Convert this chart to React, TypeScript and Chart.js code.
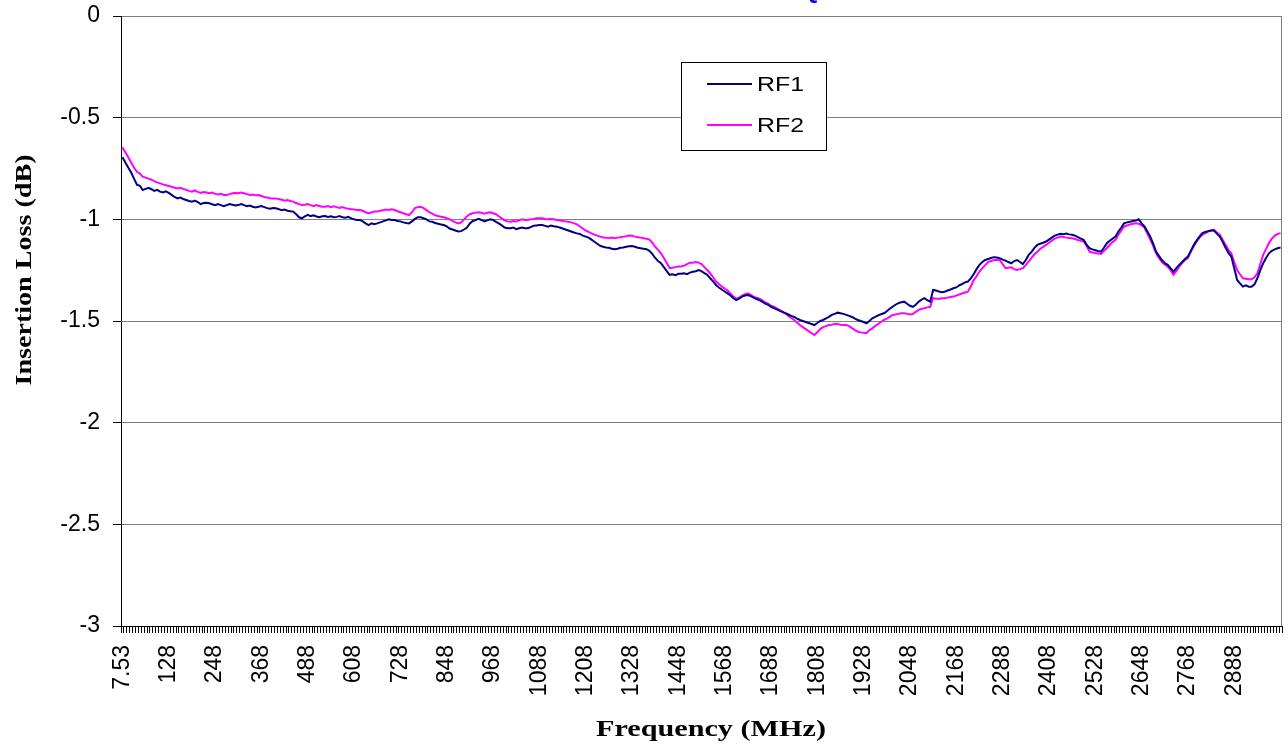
import React, { useEffect, useRef } from "react";
import { Chart, registerables } from "chart.js";

Chart.register(...registerables);

// Tick labels shown every 16 categories (MHz)
const TICK_LABELS = [
  "7.53", "128", "248", "368", "488", "608", "728", "848", "968", "1088",
  "1208", "1328", "1448", "1568", "1688", "1808", "1928", "2048", "2168",
  "2288", "2408", "2528", "2648", "2768", "2888",
];
const POINT_COUNT = 401;
const LABEL_EVERY = 16;
const CATEGORIES: string[] = Array.from({ length: POINT_COUNT }, (_, i) =>
  i % LABEL_EVERY === 0 && TICK_LABELS[i / LABEL_EVERY] !== undefined ? TICK_LABELS[i / LABEL_EVERY] : ""
);

const SERIES_NAMES = ["RF1", "RF2"];
const SERIES_COLORS = ["#000080", "#FF00FF"];

const RF1 = [
  -0.695, -0.72, -0.745, -0.77, -0.80, -0.83, -0.835, -0.856, -0.85, -0.845,
  -0.852, -0.86, -0.855, -0.864, -0.868, -0.862, -0.87, -0.88, -0.89, -0.897,
  -0.893, -0.90, -0.905, -0.91, -0.913, -0.908, -0.915, -0.925, -0.92, -0.918,
  -0.921, -0.926, -0.93, -0.925, -0.93, -0.935, -0.93, -0.925, -0.928, -0.932,
  -0.93, -0.925, -0.93, -0.935, -0.932, -0.938, -0.942, -0.938, -0.935, -0.94,
  -0.945, -0.948, -0.944, -0.946, -0.95, -0.955, -0.952, -0.958, -0.96, -0.962,
  -0.975, -0.99, -0.995, -0.985, -0.978, -0.984, -0.98, -0.986, -0.99, -0.985,
  -0.984, -0.988, -0.985, -0.99, -0.988, -0.984, -0.99, -0.992, -0.988, -0.995,
  -1.0, -1.003, -1.003, -1.01, -1.02, -1.028, -1.02, -1.024, -1.02, -1.015,
  -1.01, -1.005, -1.0, -1.003, -1.003, -1.008, -1.01, -1.015, -1.018, -1.02,
  -1.01, -0.998, -0.99, -0.99, -0.995, -1.0, -1.01, -1.012, -1.018, -1.022,
  -1.025, -1.028, -1.035, -1.045, -1.05, -1.055, -1.06, -1.058, -1.05, -1.04,
  -1.02, -1.008, -1.003, -0.998, -1.003, -1.01, -1.005, -1.0, -1.003, -1.012,
  -1.02, -1.03, -1.04, -1.044, -1.044, -1.04, -1.048, -1.044, -1.04, -1.044,
  -1.044, -1.038, -1.032, -1.03, -1.028, -1.028, -1.032, -1.036, -1.03, -1.034,
  -1.036, -1.04, -1.045, -1.05, -1.055, -1.06, -1.065, -1.069, -1.072, -1.08,
  -1.085, -1.09, -1.10, -1.11, -1.12, -1.13, -1.135, -1.138, -1.14, -1.145,
  -1.147, -1.145, -1.14, -1.138, -1.135, -1.132, -1.131, -1.135, -1.14, -1.142,
  -1.145, -1.147, -1.155, -1.17, -1.19, -1.205, -1.216, -1.235, -1.255, -1.273,
  -1.27, -1.275, -1.268, -1.268, -1.265, -1.27, -1.262, -1.258, -1.255, -1.249,
  -1.255, -1.265, -1.273, -1.29, -1.305, -1.323, -1.335, -1.345, -1.355, -1.364,
  -1.375, -1.388, -1.397, -1.39, -1.38, -1.375, -1.372, -1.378, -1.385, -1.392,
  -1.397, -1.405, -1.415, -1.42, -1.43, -1.437, -1.443, -1.45, -1.455, -1.462,
  -1.468, -1.475, -1.48, -1.488, -1.495, -1.5, -1.505, -1.51, -1.515, -1.52,
  -1.51, -1.5, -1.495, -1.487, -1.48, -1.47, -1.465, -1.459, -1.462, -1.465,
  -1.47, -1.475, -1.48, -1.488, -1.495, -1.5, -1.505, -1.511, -1.5, -1.487,
  -1.48, -1.472, -1.467, -1.462, -1.452, -1.44, -1.43, -1.42, -1.412, -1.408,
  -1.405, -1.415, -1.425, -1.43, -1.42, -1.405, -1.395, -1.388, -1.398, -1.405,
  -1.347, -1.35, -1.355, -1.358, -1.356, -1.35, -1.345, -1.339, -1.335, -1.325,
  -1.318, -1.31, -1.306, -1.29, -1.27, -1.245, -1.224, -1.21, -1.2, -1.195,
  -1.19, -1.186, -1.188, -1.191, -1.198, -1.203, -1.21, -1.216, -1.205, -1.20,
  -1.21, -1.22, -1.2, -1.175, -1.16, -1.14, -1.126, -1.12, -1.115, -1.109,
  -1.1, -1.09, -1.08, -1.075, -1.071, -1.073, -1.07, -1.074, -1.076, -1.08,
  -1.088, -1.095, -1.101, -1.125, -1.142, -1.148, -1.152, -1.156, -1.159, -1.14,
  -1.117, -1.105, -1.095, -1.085, -1.06, -1.04, -1.019, -1.015, -1.012, -1.008,
  -1.006, -1.0, -1.02, -1.035, -1.06, -1.085, -1.12, -1.159, -1.18, -1.2,
  -1.215, -1.224, -1.24, -1.257, -1.24, -1.224, -1.21, -1.195, -1.183, -1.155,
  -1.126, -1.105, -1.085, -1.068, -1.062, -1.058, -1.055, -1.055, -1.07, -1.085,
  -1.11, -1.14, -1.165, -1.183, -1.24, -1.298, -1.315, -1.331, -1.325, -1.331,
  -1.331, -1.32, -1.29, -1.25, -1.216, -1.19, -1.167, -1.155, -1.148, -1.142, -1.139,
];

const RF2 = [
  -0.646, -0.67, -0.695, -0.72, -0.745, -0.766, -0.775, -0.79, -0.795, -0.80,
  -0.805, -0.812, -0.818, -0.823, -0.828, -0.832, -0.836, -0.84, -0.845, -0.848,
  -0.845, -0.85, -0.855, -0.86, -0.864, -0.858, -0.865, -0.87, -0.866, -0.868,
  -0.872, -0.868, -0.875, -0.878, -0.874, -0.88, -0.88, -0.876, -0.872, -0.87,
  -0.872, -0.868, -0.872, -0.876, -0.88, -0.878, -0.882, -0.88, -0.885, -0.89,
  -0.893, -0.896, -0.897, -0.897, -0.9, -0.904, -0.908, -0.905, -0.91, -0.913,
  -0.92, -0.925, -0.93, -0.928, -0.925, -0.93, -0.935, -0.93, -0.934, -0.938,
  -0.938, -0.935, -0.94, -0.936, -0.94, -0.944, -0.94, -0.945, -0.948, -0.95,
  -0.952, -0.954, -0.954, -0.958, -0.965, -0.97, -0.966, -0.962, -0.962, -0.958,
  -0.955, -0.952, -0.954, -0.95, -0.954, -0.96, -0.965, -0.97, -0.975, -0.979,
  -0.965, -0.945, -0.94, -0.938, -0.945, -0.955, -0.965, -0.972, -0.98, -0.984,
  -0.987, -0.99, -0.995, -1.0, -1.008, -1.015, -1.02, -1.015, -1.0, -0.985,
  -0.975, -0.97, -0.967, -0.965, -0.968, -0.972, -0.968, -0.965, -0.97, -0.975,
  -0.985, -0.995, -1.005, -1.01, -1.012, -1.008, -1.01, -1.005, -1.0, -1.003,
  -1.003, -1.0, -0.998, -0.995, -0.995, -0.995, -0.998, -1.0, -0.998, -1.0,
  -1.003, -1.005, -1.008, -1.01, -1.012, -1.015, -1.02, -1.025, -1.035, -1.045,
  -1.055, -1.062, -1.069, -1.075, -1.08, -1.085, -1.089, -1.09, -1.092, -1.09,
  -1.093, -1.09, -1.088, -1.085, -1.083, -1.08, -1.081, -1.085, -1.088, -1.09,
  -1.093, -1.095, -1.1, -1.115, -1.135, -1.15, -1.167, -1.19, -1.215, -1.24,
  -1.238, -1.235, -1.232, -1.232, -1.228, -1.22, -1.213, -1.213, -1.21, -1.213,
  -1.22, -1.235, -1.249, -1.265, -1.285, -1.306, -1.318, -1.33, -1.34, -1.35,
  -1.365, -1.38, -1.39, -1.385, -1.375, -1.368, -1.364, -1.372, -1.38, -1.386,
  -1.39, -1.398, -1.408, -1.415, -1.425, -1.43, -1.438, -1.445, -1.455, -1.462,
  -1.475, -1.485, -1.495, -1.508, -1.52, -1.53, -1.54, -1.55, -1.56, -1.569,
  -1.555, -1.54, -1.53, -1.525, -1.52, -1.518, -1.515, -1.515, -1.518, -1.52,
  -1.52, -1.525, -1.535, -1.545, -1.553, -1.556, -1.558, -1.56, -1.545, -1.536,
  -1.525, -1.515, -1.505, -1.495, -1.488, -1.48, -1.47, -1.468, -1.465, -1.462,
  -1.462, -1.465, -1.468, -1.466, -1.455, -1.445, -1.44, -1.437, -1.433, -1.43,
  -1.388, -1.39, -1.392, -1.388, -1.388, -1.385, -1.382, -1.38, -1.375, -1.37,
  -1.365, -1.36, -1.356, -1.33, -1.3, -1.28, -1.257, -1.24, -1.225, -1.21,
  -1.205, -1.2, -1.2, -1.2, -1.22, -1.24, -1.238, -1.236, -1.245, -1.249,
  -1.245, -1.24, -1.225, -1.208, -1.19, -1.172, -1.159, -1.145, -1.135, -1.126,
  -1.115, -1.105, -1.095, -1.09, -1.085, -1.087, -1.09, -1.092, -1.093, -1.097,
  -1.102, -1.106, -1.109, -1.13, -1.159, -1.163, -1.166, -1.168, -1.17, -1.155,
  -1.142, -1.125, -1.112, -1.101, -1.075, -1.055, -1.035, -1.03, -1.025, -1.022,
  -1.019, -1.022, -1.03, -1.04, -1.07, -1.1, -1.13, -1.167, -1.19, -1.21,
  -1.222, -1.232, -1.25, -1.273, -1.255, -1.232, -1.215, -1.2, -1.191, -1.16,
  -1.134, -1.11, -1.09, -1.076, -1.068, -1.06, -1.055, -1.052, -1.065, -1.076,
  -1.1, -1.125, -1.15, -1.167, -1.21, -1.249, -1.27, -1.29, -1.292, -1.295,
  -1.295, -1.285, -1.265, -1.22, -1.175, -1.145, -1.117, -1.095, -1.08, -1.072, -1.068,
];

const Y_MIN = -3;
const Y_MAX = 0;
const Y_STEP = 0.5;
const TITLE_FRAGMENT = "Q";
const Y_TITLE = "Insertion Loss (dB)";
const X_TITLE = "Frequency (MHz)";

const SANS = "'Liberation Sans', Arial, sans-serif";
const SERIF = "'Liberation Serif', 'Times New Roman', serif";

function drawFitText(
  ctx: CanvasRenderingContext2D,
  text: string,
  x: number,
  y: number,
  font: string,
  targetWidth: number,
  angle: number,
  align: CanvasTextAlign
) {
  ctx.save();
  ctx.translate(x, y);
  ctx.rotate(angle);
  ctx.font = font;
  const w = ctx.measureText(text).width;
  ctx.scale(targetWidth / w, 1);
  ctx.textAlign = align;
  ctx.textBaseline = "middle";
  ctx.fillStyle = "#000";
  ctx.fillText(text, 0, 0);
  ctx.restore();
}

const decorPlugin = {
  id: "decor",
  afterDraw(chart: any) {
    const ctx: CanvasRenderingContext2D = chart.ctx;
    const area = chart.chartArea;
    // right border of plot area
    ctx.save();
    ctx.strokeStyle = "#808080";
    ctx.lineWidth = 1;
    ctx.beginPath();
    ctx.moveTo(Math.round(area.right) - 0.5, area.top);
    ctx.lineTo(Math.round(area.right) - 0.5, area.bottom);
    ctx.stroke();
    ctx.restore();

    // title fragment (mostly cut off at top)
    ctx.save();
    ctx.font = `bold 24px ${SANS}`;
    ctx.fillStyle = "#0000FF";
    ctx.textAlign = "center";
    ctx.textBaseline = "alphabetic";
    ctx.fillText(TITLE_FRAGMENT, 810, -2);
    ctx.restore();

    // axis titles
    drawFitText(ctx, Y_TITLE, 25, 270, `bold 24px ${SERIF}`, 231, -Math.PI / 2, "center");
    drawFitText(ctx, X_TITLE, 711, 730, `bold 24px ${SERIF}`, 230, 0, "center");

    // legend
    const bx = 681.5, by = 62.5, bw = 145, bh = 88;
    ctx.save();
    ctx.fillStyle = "#fff";
    ctx.fillRect(bx, by, bw, bh);
    ctx.strokeStyle = "#000";
    ctx.lineWidth = 1;
    ctx.strokeRect(bx, by, bw, bh);
    const rows = [84, 125];
    SERIES_NAMES.forEach((name, k) => {
      ctx.strokeStyle = SERIES_COLORS[k];
      ctx.lineWidth = 2;
      ctx.beginPath();
      ctx.moveTo(707, rows[k]);
      ctx.lineTo(752, rows[k]);
      ctx.stroke();
      drawFitText(ctx, name, 757, rows[k] + 1, `21px ${SANS}`, 47, 0, "left");
    });
    ctx.restore();
  },
};

export default function App() {
  const canvasRef = useRef<HTMLCanvasElement | null>(null);

  useEffect(() => {
    const canvas = canvasRef.current;
    if (!canvas) return;
    const chart = new Chart(canvas, {
      type: "line",
      data: {
        labels: CATEGORIES,
        datasets: [
          {
            label: SERIES_NAMES[0],
            data: RF1,
            borderColor: SERIES_COLORS[0],
            backgroundColor: SERIES_COLORS[0],
            borderWidth: 2,
            pointRadius: 0,
            tension: 0,
            fill: false,
          },
          {
            label: SERIES_NAMES[1],
            data: RF2,
            borderColor: SERIES_COLORS[1],
            backgroundColor: SERIES_COLORS[1],
            borderWidth: 2,
            pointRadius: 0,
            tension: 0,
            fill: false,
          },
        ],
      },
      options: {
        responsive: true,
        maintainAspectRatio: false,
        animation: false,
        layout: { padding: { top: 16, right: 6, left: 0, bottom: 0 } },
        plugins: {
          legend: { display: false },
          title: { display: false },
          tooltip: { enabled: false },
        },
        scales: {
          x: {
            type: "category",
            offset: true,
            afterFit(scale: any) {
              scale.height = 123;
              scale.paddingLeft = 0;
              scale.paddingRight = 0;
              scale.paddingTop = 0;
              scale.paddingBottom = 0;
            },
            grid: {
              offset: true,
              drawOnChartArea: false,
              drawTicks: true,
              tickLength: 7,
              tickColor: "#000",
            },
            border: { color: "#000", width: 1 },
            ticks: {
              autoSkip: false,
              minRotation: 90,
              maxRotation: 90,
              padding: 12,
              color: "#000",
              font: { family: SANS, size: 23 },
              callback: (_v: any, i: number) => CATEGORIES[i],
            },
          },
          y: {
            min: Y_MIN,
            max: Y_MAX,
            afterFit(scale: any) {
              scale.width = 121;
              scale.paddingLeft = 0;
              scale.paddingRight = 0;
              scale.paddingTop = 0;
              scale.paddingBottom = 0;
            },
            grid: {
              color: "#808080",
              lineWidth: 1,
              tickColor: "#000",
              tickLength: 8,
            },
            border: { color: "#000", width: 1 },
            ticks: {
              stepSize: Y_STEP,
              padding: 13,
              color: "#000",
              font: { family: SANS, size: 23 },
              callback: (v: any) => String(Number(v)),
            },
          },
        },
      },
      plugins: [decorPlugin],
    });
    return () => chart.destroy();
  }, []);

  return (
    <div style={{ position: "absolute", left: 0, top: 0, width: 1288, height: 749, background: "#fff" }}>
      <canvas ref={canvasRef} />
    </div>
  );
}
